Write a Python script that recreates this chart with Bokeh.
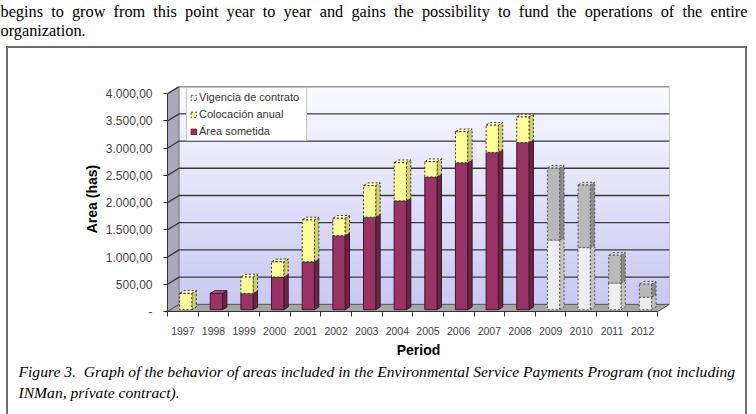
import numpy as np
from bokeh.plotting import figure
from bokeh.models import Range1d, FixedTicker, Legend, LegendItem, Title
from bokeh.embed import file_html
from bokeh.resources import INLINE

# ---------------- data ----------------
years = list(range(1997, 2013))
area_sometida = [0, 300, 300, 600, 880, 1360, 1700, 2000, 2440, 2700, 2890, 3070, 0, 0, 0, 0]
colocacion_anual = [300, 0, 300, 280, 770, 320, 580, 700, 280, 570, 500, 470, 0, 0, 0, 0]
vigencia_inferior = [0] * 12 + [1280, 1140, 490, 230]
vigencia_superior = [0] * 12 + [1320, 1150, 510, 240]
y_ticks = [0, 500, 1000, 1500, 2000, 2500, 3000, 3500, 4000]
y_tick_labels = ["-", "500,00", "1.000,00", "1.500,00", "2.000,00", "2.500,00",
                 "3.000,00", "3.500,00", "4.000,00"]
legend_labels = ["Vigencia de contrato", "Colocación anual", "Área sometida"]
text_top = ["begins to grow from this point year to year and gains the possibility to fund the operations of the entire",
            "organization."]
caption = ["Figure 3.  Graph of the behavior of areas included in the Environmental Service Payments Program (not including",
           "INMan, prívate contract)."]

# ---------------- geometry (3-D look) ----------------
X0, X1 = years[0] - 0.5, years[-1] + 0.5
YMAX = y_ticks[-1]
DXW, DYW = 0.378, 131.0          # depth of walls (x in categories, y in data units)
W = 0.40                          # bar front width
OX, OY = 0.25 * DXW, 0.25 * DYW   # bar front offset into depth
SX, SY = 0.38 * DXW, 0.38 * DYW   # bar depth

box_css = "linear-gradient(#6e6e6e,#6e6e6e)"
p = figure(width=756, height=414, x_range=Range1d(X0, X1 + DXW), y_range=Range1d(0, YMAX + DYW + 2),
           output_backend="svg", toolbar_location=None,
           min_border_left=167, min_border_right=87, min_border_top=86, min_border_bottom=103,
           styles={"background-color": "white",
                   "background-image": ",".join([box_css] * 3),
                   "background-size": "741px 2px, 2px 380px, 2px 380px",
                   "background-position": "6px 46px, 6px 46px, 745px 46px",
                   "background-repeat": "no-repeat"})
p.title.visible = False
p.xgrid.visible = False
p.ygrid.visible = False
p.outline_line_color = None
p.background_fill_color = "white"
p.border_fill_color = None

# back wall gradient
n = 40
edges = np.linspace(DYW, YMAX + DYW, n + 1)
tt = ((edges[:-1] + edges[1:]) / 2 - DYW) / YMAX
c0, c1 = (200, 200, 243), (250, 250, 255)
wall_cols = ["#%02x%02x%02x" % tuple(int(round(a + (b - a) * t)) for a, b in zip(c0, c1)) for t in tt]
p.quad(left=X0 + DXW, right=X1 + DXW, bottom=edges[:-1], top=edges[1:],
       fill_color=wall_cols, line_color=wall_cols, line_width=1)
# left wall and floor
p.patch(x=[X0, X0, X0 + DXW, X0 + DXW], y=[0, YMAX, YMAX + DYW, DYW],
        fill_color="#A8A8BA", line_color="#777777", line_width=1)
p.patch(x=[X0, X1, X1 + DXW, X0 + DXW], y=[0, 0, DYW, DYW],
        fill_color="#A6A6A6", line_color="#555555", line_width=1)
p.line(x=[X1 + DXW, X1 + DXW], y=[DYW, YMAX + DYW], line_color="#999999", line_width=1)
# gridlines across side wall and back wall
gx = [[X0, X0 + DXW, X1 + DXW] for v in y_ticks[1:]]
gy = [[v, v + DYW, v + DYW] for v in y_ticks[1:]]
p.multi_line(xs=gx, ys=gy, line_color="#383838", line_width=1.3)

xv = np.array(years, dtype=float)


def segment(base, vals, front, side, topc, dash, lc):
    base = np.asarray(base, dtype=float)
    vals = np.asarray(vals, dtype=float)
    m = vals > 0
    L = xv[m] + OX - W / 2
    R = L + W
    B = base[m] + OY
    T = B + vals[m]
    p.patches(xs=[[r, r + SX, r + SX, r] for r in R],
              ys=[[b, b + SY, t + SY, t] for b, t in zip(B, T)],
              fill_color=side, line_color=lc, line_dash=dash, line_width=1)
    p.patches(xs=[[l, r, r + SX, l + SX] for l, r in zip(L, R)],
              ys=[[t, t, t + SY, t + SY] for t in T],
              fill_color=topc, line_color=lc, line_dash=dash, line_width=1)
    return p.quad(left=L, right=R, bottom=B, top=T, fill_color=front,
                  line_color=lc, line_dash=dash, line_width=1)


b0 = np.zeros(len(years))
r_area = segment(b0, area_sometida, "#993366", "#6C2348", "#B9567F", "solid", "#3A1A2A")
b1 = b0 + np.array(area_sometida)
r_col = segment(b1, colocacion_anual, "#FFFF99", "#CDCD6A", "#FFFFC8", "2 2", "#333333")
b2 = b1 + np.array(colocacion_anual)
r_vig = segment(b2, vigencia_inferior, "#EEEEEE", "#C2C2C2", "#F7F7F7", "2 2", "#555555")
b3 = b2 + np.array(vigencia_inferior)
segment(b3, vigencia_superior, "#B9B9B9", "#8C8C8C", "#D2D2D2", "2 2", "#555555")

# ---------------- axes ----------------
p.yaxis.ticker = FixedTicker(ticks=y_ticks)
p.yaxis.major_label_overrides = dict(zip(y_ticks, y_tick_labels))
p.yaxis.bounds = (0, YMAX)
p.yaxis.axis_label = "Area (has)"
p.yaxis.axis_line_color = "#333333"
p.yaxis.major_tick_line_color = "#333333"
p.yaxis.major_tick_out = 4
p.yaxis.major_tick_in = 0
p.yaxis.minor_tick_line_color = None
p.yaxis.major_label_text_font = "Liberation Sans"
p.yaxis.major_label_text_font_size = "12px"
p.yaxis.major_label_text_color = "#444444"
p.yaxis.major_label_standoff = 11
p.yaxis.axis_label_text_font = "Liberation Sans"
p.yaxis.axis_label_text_font_size = "14px"
p.yaxis.axis_label_text_font_style = "bold"
p.yaxis.axis_label_text_color = "black"
p.yaxis.axis_label_standoff = 3

p.xaxis.ticker = FixedTicker(ticks=years, minor_ticks=[y - 0.5 for y in years] + [years[-1] + 0.5])
p.xaxis.major_label_overrides = {y: str(y) for y in years}
p.xaxis.bounds = (X0, X1)
p.xaxis.axis_line_color = "#333333"
p.xaxis.major_tick_line_color = None
p.xaxis.major_tick_out = 0
p.xaxis.major_tick_in = 0
p.xaxis.minor_tick_line_color = "#333333"
p.xaxis.minor_tick_out = 5
p.xaxis.minor_tick_in = 0
p.xaxis.major_label_text_font = "Liberation Sans"
p.xaxis.major_label_text_font_size = "10.5px"
p.xaxis.major_label_text_color = "#444444"
p.xaxis.major_label_standoff = 10
p.xaxis.axis_label = "Period"
p.xaxis.axis_label_text_font = "Liberation Sans"
p.xaxis.axis_label_text_font_size = "14px"
p.xaxis.axis_label_text_font_style = "bold"
p.xaxis.axis_label_text_color = "black"
p.xaxis.axis_label_standoff = 4

# ---------------- legend ----------------
legend = Legend(items=[LegendItem(label=legend_labels[0], renderers=[r_vig]),
                       LegendItem(label=legend_labels[1], renderers=[r_col]),
                       LegendItem(label=legend_labels[2], renderers=[r_area])],
                location=(19, 170), orientation="vertical",
                border_line_color="#8C8C8C", border_line_width=1,
                background_fill_color="white", background_fill_alpha=1,
                label_text_font="Liberation Sans", label_text_font_size="11px",
                label_text_color="#333333", glyph_width=7, glyph_height=7,
                label_height=12, spacing=5, padding=3, margin=0, label_standoff=2,
                label_width=104)
p.add_layout(legend)

# ---------------- page text (titles in side panels) ----------------
JUST = " \u2005"   # word gap widened to mimic the justified paragraph
serif = dict(text_font="Liberation Serif", text_color="black", align="left")
p.add_layout(Title(text=" ", offset=-167, text_font_size="1px", standoff=45, **serif), "above")
p.add_layout(Title(text=text_top[1], offset=-167, text_font_size="16.3px",
                   text_font_style="normal", standoff=-2, **serif), "above")
p.add_layout(Title(text=text_top[0].replace(" ", JUST), offset=-167, text_font_size="16.3px",
                   text_font_style="normal", standoff=-2, **serif), "above")
p.add_layout(Title(text=caption[0].replace("  ", " \u2005"), offset=-149,
                   text_font_size="15.6px", text_font_style="italic", standoff=1, **serif), "below")
p.add_layout(Title(text=caption[1], offset=-149, text_font_size="15.6px",
                   text_font_style="italic", standoff=2, **serif), "below")

open("out.html", "w").write(file_html(p, INLINE))
